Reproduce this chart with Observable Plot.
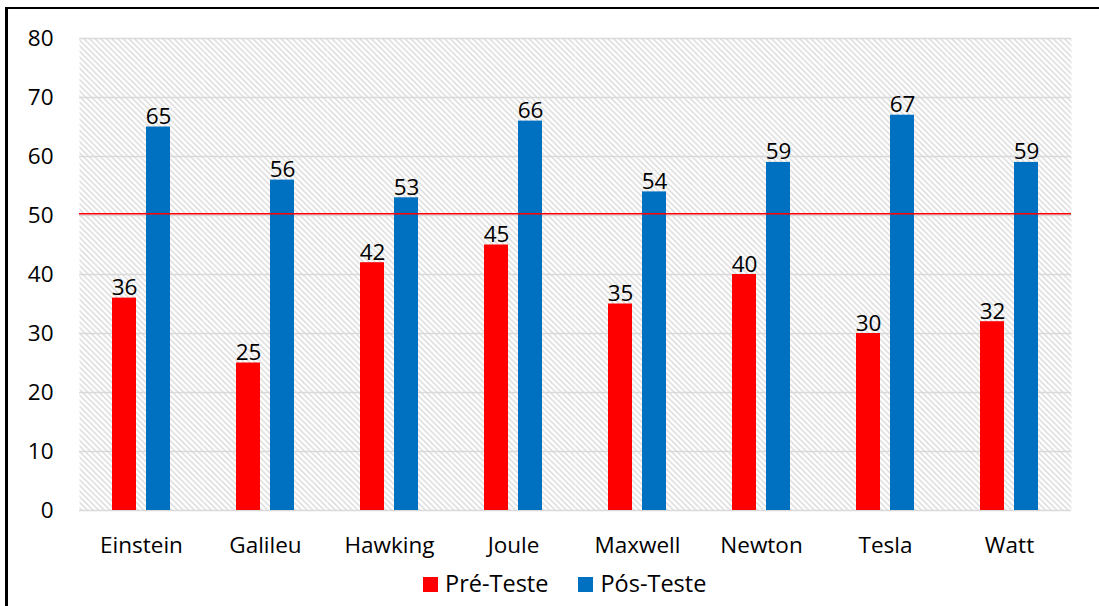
<!DOCTYPE html>
<html>
<head>
<meta charset="utf-8">
<script src="https://cdn.jsdelivr.net/npm/d3@7"></script>
<script src="https://cdn.jsdelivr.net/npm/@observablehq/plot@0.6"></script>
<style>
  html, body { margin: 0; padding: 0; background: #fff; overflow: hidden; }
  #frame { position: absolute; left: 5px; top: 6.5px; width: 1200px; height: 700px;
           border-left: 3px solid #000; border-top: 2px solid #000; box-sizing: border-box; }
  #chart { position: absolute; left: 0; top: 0; }
  #legend { position: absolute; left: 423px; top: 571px; font-family: "Open Sans", sans-serif;
            font-size: 23.5px; line-height: 24px; color: #000; white-space: nowrap; }
  #legend .sw { display: inline-block; width: 15px; height: 15px; margin-right: 7px; }
  #legend .item { display: inline-block; margin-right: 30px; }
</style>
</head>
<body>
<div id="frame"></div>
<div id="chart"></div>
<div id="legend"></div>
<script>
const names = ["Einstein", "Galileu", "Hawking", "Joule", "Maxwell", "Newton", "Tesla", "Watt"];
const preTeste = [36, 25, 42, 45, 35, 40, 30, 32];
const posTeste = [65, 56, 53, 66, 54, 59, 67, 59];
const seriesNames = ["Pré-Teste", "Pós-Teste"];
const seriesColors = ["#ff0000", "#0070c0"];
const yTicks = [0, 10, 20, 30, 40, 50, 60, 70, 80];
const threshold = [50.3];

const rows = names.flatMap((n, i) => [
  {name: n, series: seriesNames[0], value: preTeste[i]},
  {name: n, series: seriesNames[1], value: posTeste[i]}
]);

const plot = Plot.plot({
  width: 1099,
  height: 565,
  marginLeft: 79,
  marginRight: 28,
  marginTop: 38,
  marginBottom: 55,
  style: {fontFamily: "Open Sans, sans-serif", fontSize: "22.5px", color: "#000", background: "transparent"},
  fx: {domain: names, padding: 0, tickSize: 0, tickPadding: 27, label: null, axis: "bottom"},
  x: {domain: seriesNames, paddingInner: 0.297, paddingOuter: 0.935, axis: null},
  y: {domain: [0, 80], ticks: yTicks, tickSize: 0, tickPadding: 26, label: null},
  color: {domain: seriesNames, range: seriesColors},
  marks: [
    Plot.frame({fill: "url(#hatch)", stroke: null}),
    Plot.ruleY(yTicks, {stroke: "#d9d9d9", strokeWidth: 1.6}),
    Plot.barY(rows, {fx: "name", x: "series", y: "value", fill: "series"}),
    Plot.ruleY(threshold, {stroke: "#ff0000", strokeWidth: 1.3}),
    Plot.text(rows, {fx: "name", x: "series", y: "value", text: d => String(d.value),
                     lineAnchor: "bottom", dy: -3, fontSize: 22.5, fill: "#000"})
  ]
});

const p = 124 / 22;
d3.select(plot).insert("defs", ":first-child").html(
  `<pattern id="hatch" patternUnits="userSpaceOnUse" width="${p}" height="${p}">
     <rect width="${p}" height="${p}" fill="#ffffff"></rect>
     <path d="M-1,-1 L${p + 1},${p + 1} M-1,${p - 1} L1,${p + 1} M${p - 1},-1 L${p + 1},1" stroke="#d9d9d9" stroke-width="1.4"></path>
   </pattern>`
);

document.getElementById("chart").appendChild(plot);

const legend = d3.select("#legend");
seriesNames.forEach((s, i) => {
  const item = legend.append("span").attr("class", "item");
  item.append("span").attr("class", "sw").style("background", seriesColors[i]);
  item.append("span").text(s);
});
</script>
</body>
</html>
